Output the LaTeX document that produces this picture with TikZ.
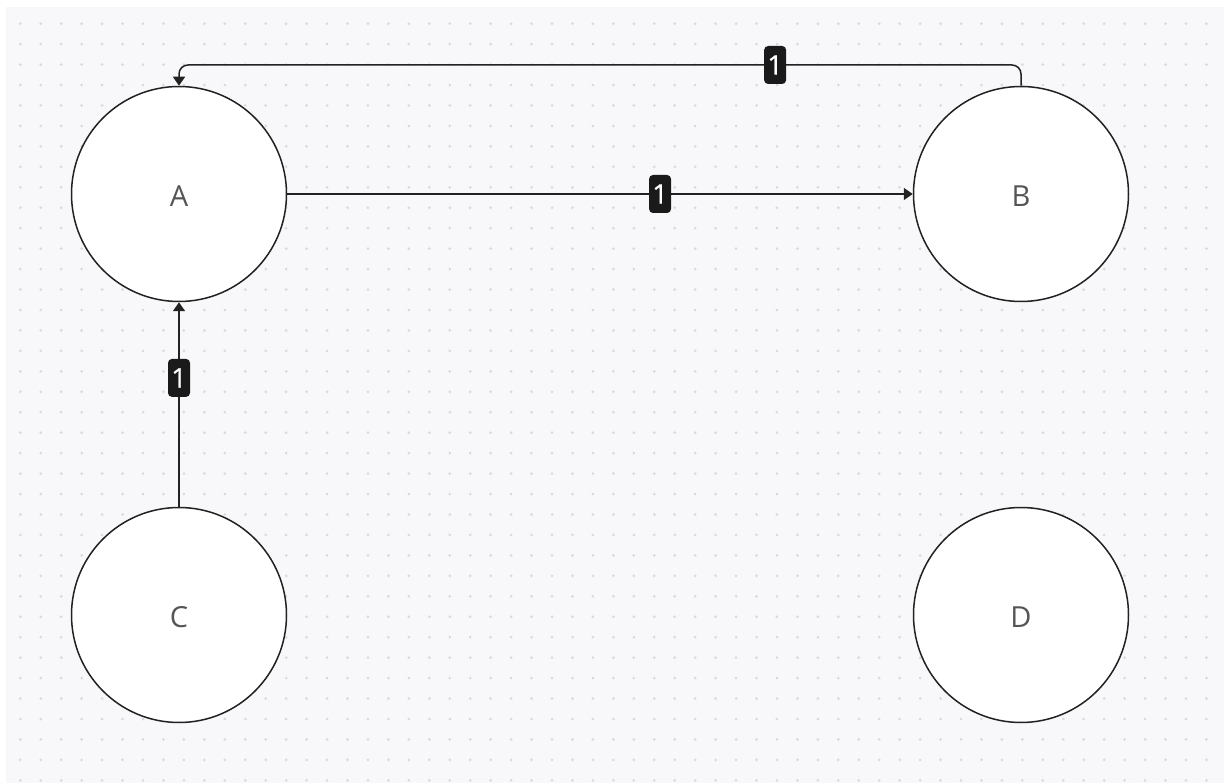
\documentclass[tikz,border=0pt]{standalone}
\usepackage{fontspec}
\setmainfont{Open Sans}
\newfontfamily\lblfont[FakeBold=0.7]{Open Sans}
\usetikzlibrary{arrows.meta}
\definecolor{canvas}{HTML}{F8F8FA}
\definecolor{griddot}{HTML}{DADADE}
\definecolor{ink}{HTML}{222222}
\definecolor{labelfill}{HTML}{1A1A1A}
\definecolor{statetext}{HTML}{555555}
% state name set 2pt below the circle's centre, keeping its box size
\newcommand{\statename}[1]{\raisebox{-2pt}[\height][\depth]{#1}}
\begin{document}
\begin{tikzpicture}[x=1pt,y=-1pt,
  state/.style={circle, draw=ink, line width=1.5pt, fill=white, minimum size=215pt,
    inner sep=0pt, font=\fontsize{29}{29}\selectfont, text=statetext},
  edge/.style={draw=ink, line width=1.5pt, -{Triangle[length=9pt,width=12pt]}},
  lbl/.style={fill=labelfill, text=white, rounded corners=4pt, minimum width=22pt,
    minimum height=38pt, inner sep=0pt, font=\lblfont\fontsize{27}{27}\selectfont}]
  \useasboundingbox (0,0) rectangle (1224,783);
  % canvas with dotted grid
  \fill[white] (0,0) rectangle (1224,783);
  \fill[canvas] (6,7) rectangle (1224,783);
  \foreach \i in {0,...,59} {
    \foreach \j in {0,...,37} {
      \fill[griddot] (20.3+20.45*\i, 23.7+20.45*\j) circle (1.5pt);
    }
  }
  % states
  \node[state] (A) at (179,194) {\statename{A}};
  \node[state] (B) at (1021,194) {\statename{B}};
  \node[state] (C) at (179,615) {\statename{C}};
  \node[state] (D) at (1021,615) {\statename{D}};
  % transitions
  \draw[edge] (A) -- node[lbl, pos=0.596] {1} (B);
  \draw[edge] (C) -- node[lbl, pos=0.63] {1} (A);
  \coordinate (ba1) at (1021,65);
  \coordinate (ba2) at (179,65);
  \draw[edge, rounded corners=9pt] (B.north) -- (ba1) -- node[lbl, pos=0.292] {1} (ba2) -- (A.north);
\end{tikzpicture}
\end{document}
